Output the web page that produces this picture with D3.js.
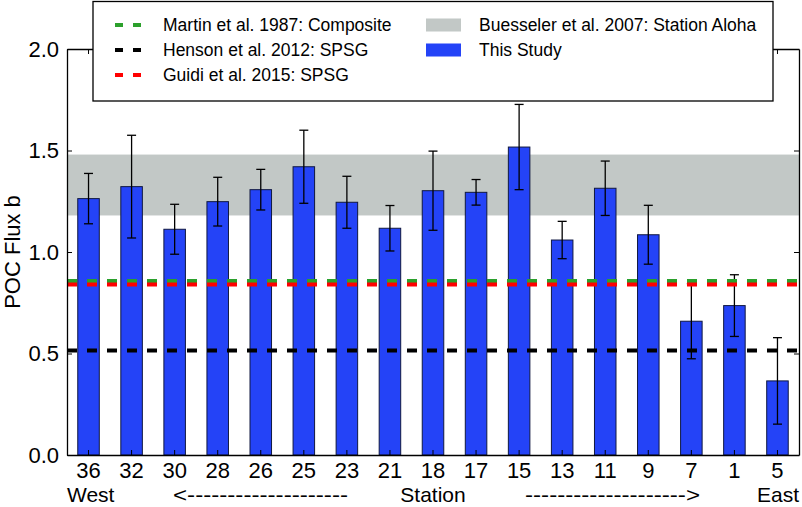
<!DOCTYPE html>
<html>
<head>
<meta charset="utf-8">
<script src="https://cdn.jsdelivr.net/npm/d3@7"></script>
<style>
  body { margin: 0; background: #fff; }
  svg { display: block; font-family: "Liberation Sans", Arial, Helvetica, sans-serif; }
</style>
</head>
<body>
<svg id="chart" width="802" height="507"></svg>
<script>
const stations = ["36","32","30","28","26","25","23","21","18","17","15","13","11","9","7","1","5"];
const flux     = [1.263,1.322,1.112,1.248,1.307,1.420,1.245,1.117,1.302,1.294,1.517,1.059,1.314,1.085,0.659,0.736,0.365];
const fluxErr  = [0.124,0.253,0.123,0.120,0.100,0.180,0.128,0.112,0.195,0.063,0.210,0.092,0.134,0.145,0.185,0.152,0.213];
const yTicks   = [0.0, 0.5, 1.0, 1.5, 2.0];
const martin   = 0.857;
const henson   = 0.515;
const guidi    = 0.840;
const aloha    = [1.18, 1.48];
const legendLines = [
  {label: "Martin et al. 1987: Composite", color: "#2ca02c"},
  {label: "Henson et al. 2012: SPSG", color: "#000000"},
  {label: "Guidi et al. 2015: SPSG", color: "#ff0000"}
];
const legendPatches = [
  {label: "Buesseler et al. 2007: Station Aloha", color: "#c2c8c6"},
  {label: "This Study", color: "#2443f7"}
];

const svg = d3.select("#chart");
const m = {left: 67, right: 3, top: 49, bottom: 52};
const W = 802, H = 507;
const x = d3.scaleBand().domain(stations).range([m.left, W - m.right]).paddingInner(0.5).paddingOuter(0.25);
const y = d3.scaleLinear().domain([0, 2]).range([H - m.bottom, m.top]);

const g = svg.append("g");

// Aloha band
g.append("rect")
  .attr("x", m.left).attr("width", W - m.right - m.left)
  .attr("y", y(aloha[1])).attr("height", y(aloha[0]) - y(aloha[1]))
  .attr("fill", "#c2c8c6");

// bars
g.selectAll("rect.bar").data(stations).join("rect")
  .attr("class", "bar")
  .attr("x", d => x(d)).attr("width", x.bandwidth())
  .attr("y", (d, i) => y(flux[i])).attr("height", (d, i) => y(0) - y(flux[i]))
  .attr("fill", "#2443f7").attr("stroke", "#101840").attr("stroke-width", 1);

// error bars
const eb = g.selectAll("g.err").data(stations).join("g").attr("class", "err");
eb.append("line")
  .attr("x1", d => x(d) + x.bandwidth()/2).attr("x2", d => x(d) + x.bandwidth()/2)
  .attr("y1", (d, i) => y(flux[i] + fluxErr[i])).attr("y2", (d, i) => y(flux[i] - fluxErr[i]))
  .attr("stroke", "#000").attr("stroke-width", 1.3);
[1, -1].forEach(s => {
  eb.append("line")
    .attr("x1", d => x(d) + x.bandwidth()/2 - 4.5).attr("x2", d => x(d) + x.bandwidth()/2 + 4.5)
    .attr("y1", (d, i) => y(flux[i] + s*fluxErr[i])).attr("y2", (d, i) => y(flux[i] + s*fluxErr[i]))
    .attr("stroke", "#000").attr("stroke-width", 1.3);
});

// reference lines
[[martin, "#2ca02c"], [guidi, "#ff0000"], [henson, "#000000"]].forEach(([v, c]) => {
  g.append("line")
    .attr("x1", m.left).attr("x2", W - m.right)
    .attr("y1", y(v)).attr("y2", y(v))
    .attr("stroke", c).attr("stroke-width", 4).attr("stroke-dasharray", "10,10");
});

// axes (ticks inward)
const fmt = d3.format(".1f");
const axL = g.append("g").attr("transform", `translate(${m.left},0)`)
  .call(d3.axisLeft(y).tickValues(yTicks).tickFormat(fmt).tickSizeInner(-5).tickSizeOuter(0).tickPadding(8));
const axR = g.append("g").attr("transform", `translate(${W - m.right},0)`)
  .call(d3.axisRight(y).tickValues(yTicks).tickFormat("").tickSizeInner(-5).tickSizeOuter(0));
const axB = g.append("g").attr("transform", `translate(0,${H - m.bottom})`)
  .call(d3.axisBottom(x).tickSizeInner(-5).tickSizeOuter(0).tickPadding(7));
const axT = g.append("g").attr("transform", `translate(0,${m.top})`)
  .call(d3.axisTop(x).tickFormat("").tickSizeInner(-5).tickSizeOuter(0));
[axL, axR, axB, axT].forEach(a => {
  a.select(".domain").attr("stroke", "#000").attr("stroke-width", 1.3);
  a.selectAll(".tick line").attr("stroke", "#000").attr("stroke-width", 1);
  a.selectAll("text").attr("font-size", 22).attr("fill", "#000").attr("font-family", "Liberation Sans, Arial, sans-serif");
});

// axis labels
svg.append("text")
  .attr("transform", `translate(20,${(m.top + H - m.bottom)/2}) rotate(-90)`)
  .attr("text-anchor", "middle").attr("font-size", 22).text("POC Flux b");
const xlY = 502, xlF = 21;
svg.append("text").attr("x", m.left).attr("y", xlY).attr("font-size", xlF).text("West");
svg.append("text").attr("x", 173).attr("y", xlY).attr("font-size", xlF)
  .attr("textLength", 175).attr("lengthAdjust", "spacingAndGlyphs").text("<" + "-".repeat(20));
svg.append("text").attr("x", (m.left + W - m.right)/2).attr("y", xlY).attr("text-anchor", "middle").attr("font-size", xlF).text("Station");
svg.append("text").attr("x", 525).attr("y", xlY).attr("font-size", xlF)
  .attr("textLength", 175).attr("lengthAdjust", "spacingAndGlyphs").text("-".repeat(20) + ">");
svg.append("text").attr("x", W - m.right).attr("y", xlY).attr("text-anchor", "end").attr("font-size", xlF).text("East");

// legend
const lg = svg.append("g");
lg.append("rect").attr("x", 93).attr("y", 1.5).attr("width", 680).attr("height", 99.5)
  .attr("fill", "#fff").attr("stroke", "#000").attr("stroke-width", 1.3);
const rowY = [25, 50, 75];
legendLines.forEach((d, i) => {
  lg.append("line").attr("x1", 115).attr("x2", 141).attr("y1", rowY[i]).attr("y2", rowY[i])
    .attr("stroke", d.color).attr("stroke-width", 4).attr("stroke-dasharray", "8,10");
  lg.append("text").attr("x", 163).attr("y", rowY[i]).attr("dy", "0.35em")
    .attr("font-size", 17.5).text(d.label);
});
legendPatches.forEach((d, i) => {
  lg.append("rect").attr("x", 426).attr("y", rowY[i] - 6.5).attr("width", 35).attr("height", 13)
    .attr("fill", d.color);
  lg.append("text").attr("x", 479).attr("y", rowY[i]).attr("dy", "0.35em")
    .attr("font-size", 17.5).text(d.label);
});
</script>
</body>
</html>
